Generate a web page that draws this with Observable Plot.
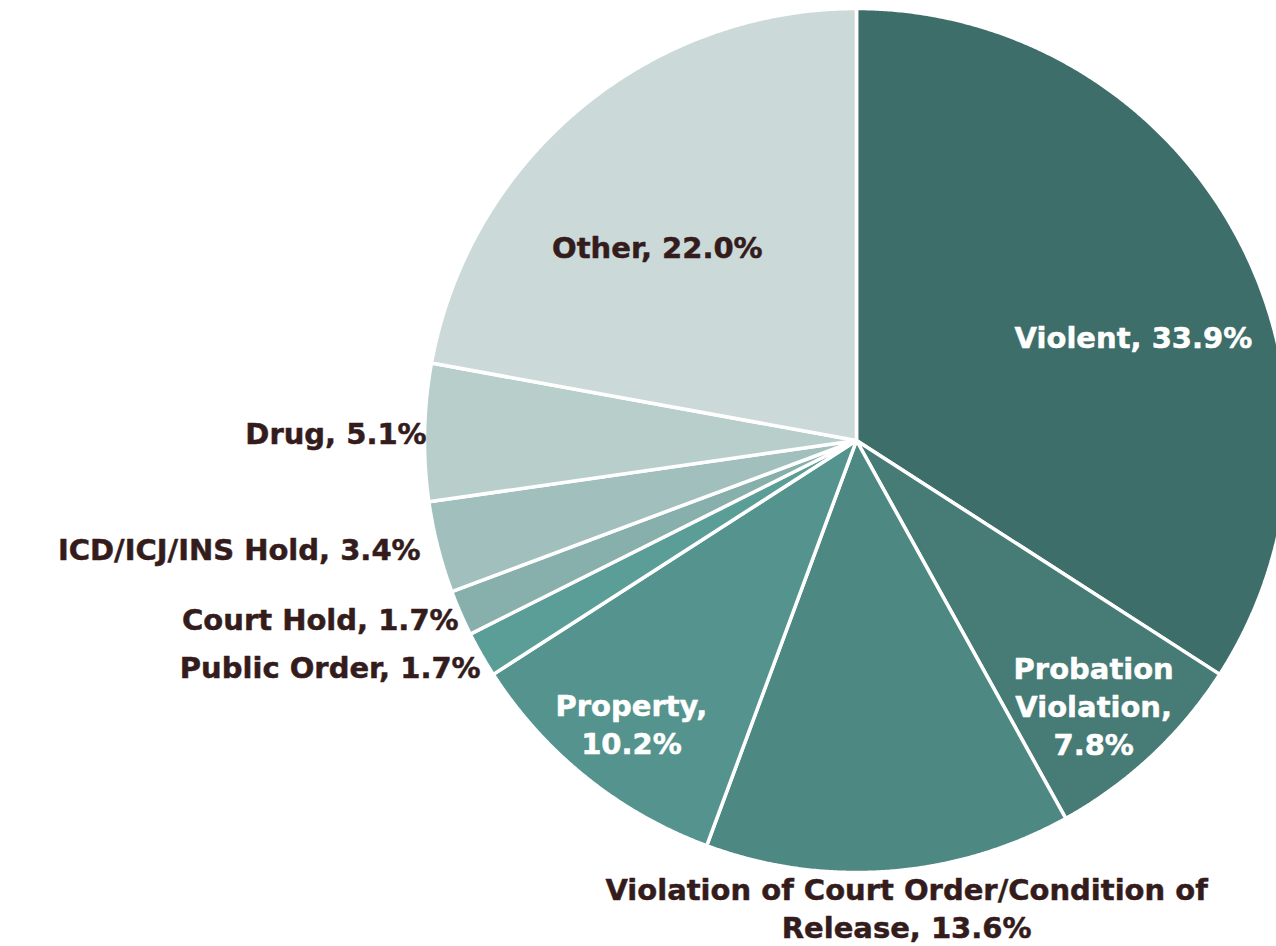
<!DOCTYPE html>
<html>
<head>
<meta charset="utf-8">
<script src="https://cdn.jsdelivr.net/npm/d3@7"></script>
<script src="https://cdn.jsdelivr.net/npm/@observablehq/plot@0.6"></script>
<style>
  html, body { margin: 0; padding: 0; background: #fff; overflow: hidden; }
</style>
</head>
<body>
<div id="chart"></div>
<script>
// Data (clockwise from 12 o'clock)
const categories = ["Violent", "Probation Violation", "Violation of Court Order/Condition of Release", "Property", "Public Order", "Court Hold", "ICD/ICJ/INS Hold", "Drug", "Other"];
const shares = [33.9, 7.8, 13.6, 10.2, 1.7, 1.7, 3.4, 5.1, 22.0];
const labelTexts = [
  "Violent, 33.9%",
  "Probation\nViolation,\n7.8%",
  "Violation of Court Order/Condition of\nRelease, 13.6%",
  "Property,\n10.2%",
  "Public Order, 1.7%",
  "Court Hold, 1.7%",
  "ICD/ICJ/INS Hold, 3.4%",
  "Drug, 5.1%",
  "Other, 22.0%"
];

// Styling / layout (not data)
const colors = ["#3e6e69", "#477b76", "#4e8883", "#55948e", "#5b9d97", "#87b0ac", "#a1c0bd", "#b8cecb", "#cbdad9"];
const labelFill = ["#ffffff", "#ffffff", "#341c1c", "#ffffff", "#341c1c", "#341c1c", "#341c1c", "#341c1c", "#341c1c"];
const labelAnchor = ["middle", "middle", "middle", "middle", "end", "end", "end", "end", "middle"];
const labelX = [0.641, 0.549, 0.116, -0.521, -0.870, -0.921, -1.009, -0.995, -0.461];
const labelY = [0.243, -0.613, -1.080, -0.653, -0.521, -0.410, -0.248, 0.019, 0.451];

const total = d3.sum(shares);
const polys = [];
let acc = 0;
shares.forEach((v, i) => {
  const a0 = acc / total * 2 * Math.PI;
  acc += v;
  const a1 = acc / total * 2 * Math.PI;
  const n = Math.max(4, Math.ceil((a1 - a0) / 0.005));
  polys.push({cat: categories[i], x: 0, y: 0});
  for (let j = 0; j <= n; j++) {
    const a = a0 + (a1 - a0) * j / n;
    polys.push({cat: categories[i], x: Math.sin(a), y: Math.cos(a)});
  }
  polys.push({cat: categories[i], x: 0, y: 0});
});

const labels = categories.map((c, i) => ({
  cat: c, text: labelTexts[i], x: labelX[i], y: labelY[i], fill: labelFill[i], anchor: labelAnchor[i]
}));

const cx = 856, cy = 440, R = 432;
const W = 1276, H = 946;

const chart = Plot.plot({
  width: W,
  height: H,
  margin: 0,
  x: {domain: [-1, 1], range: [cx - R, cx + R], axis: null},
  y: {domain: [-1, 1], range: [cy + R, cy - R], axis: null},
  color: {domain: categories, range: colors},
  style: {fontFamily: "DejaVu Sans", background: "#fff", overflow: "hidden"},
  marks: [
    Plot.line(polys, {x: "x", y: "y", z: "cat", fill: "cat", stroke: "#ffffff", strokeWidth: 3.5, strokeLinejoin: "miter", curve: "linear"}),
    ...["middle", "end"].map(anc => Plot.text(labels.filter(d => d.anchor === anc), {
      x: "x", y: "y", text: "text",
      fill: d => d.fill,
      stroke: d => d.fill,
      strokeWidth: 0.5,
      textAnchor: anc,
      fontSize: 29,
      fontWeight: "bold",
      lineHeight: 1.31
    }))
  ]
});
document.getElementById("chart").appendChild(chart);
</script>
</body>
</html>
